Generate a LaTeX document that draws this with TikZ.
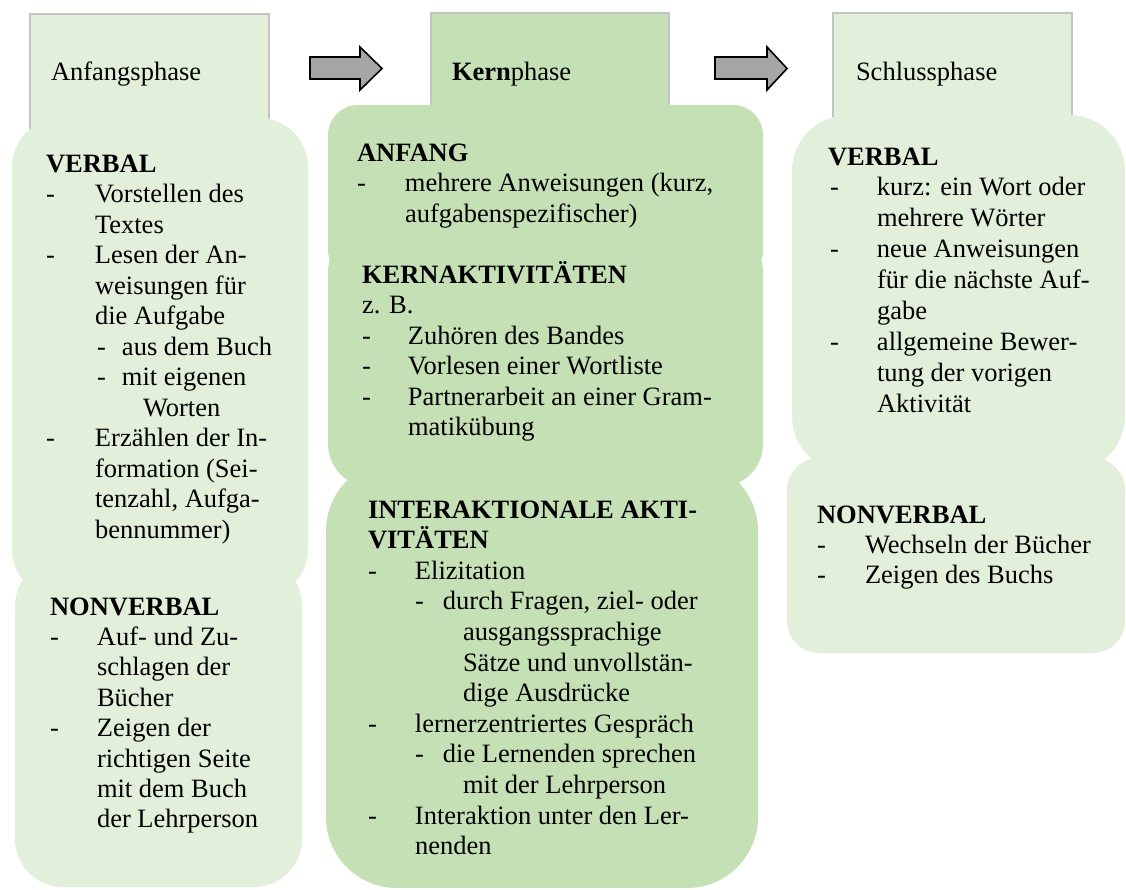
\documentclass[tikz,border=0pt]{standalone}
\usepackage{fontspec}
\setmainfont{Liberation Serif}

\definecolor{palegreen}{HTML}{E2EFDA}
\definecolor{midgreen}{HTML}{C5E0B4}
\definecolor{tabline}{HTML}{C4C4C4}
\definecolor{arrowgrey}{HTML}{A6A6A6}

% place #2 at a horizontal offset of #1 pt inside a line, without using width
\newcommand\at[2]{\makebox[0pt][l]{\hspace*{#1pt}#2}}
% a block of lines with a fixed baseline distance #1 (pt)
\newcommand\lines[2]{\parbox[t]{340pt}{\fontsize{26.5}{#1}\selectfont
  \lineskiplimit=-100pt\lineskip=0pt\parindent=0pt #2}}

\tikzset{
  every node/.style={inner sep=0pt, outer sep=0pt},
  tabbox/.style={draw=tabline, line width=1.6pt},
  blockarrow/.style={fill=arrowgrey, draw=black, line width=1.6pt, line join=miter},
  txt/.style={anchor=base west, font=\fontsize{26.5}{30.5}\selectfont},
}

\begin{document}
\begin{tikzpicture}[x=1pt, y=-1pt]
\useasboundingbox (0,0) rectangle (1126,889);
\fill[white] (0,0) rectangle (1126,889);

% phase tabs
\path[tabbox, fill=palegreen] (30,14) rectangle (269,160);
\path[tabbox, fill=midgreen]  (431,13) rectangle (669,120);
\path[tabbox, fill=palegreen] (833,13) rectangle (1072,140);
\node[txt] (tabA) at (51,80)  {Anfangsphase};
\node[txt] (tabK) at (452,80) {\textbf{Kern}phase};
\node[txt] (tabS) at (856,80) {Schlussphase};

% block arrows between the phases
\path[blockarrow] (310,57) -- (360,57) -- (360,47) -- (382,68.5) -- (360,90) -- (360,79) -- (310,79) -- cycle;
\path[blockarrow] (715,57) -- (767,57) -- (767,47) -- (787,68.5) -- (767,90) -- (767,79) -- (715,79) -- cycle;

% left column
\fill[palegreen, rounded corners=49pt] (12,118) rectangle (308,598);
\fill[palegreen, rounded corners=48pt] (15,558) rectangle (302,887);

% middle column
\fill[midgreen, rounded corners=30pt] (328,105) rectangle (763,280);
\fill[midgreen, rounded corners=43pt] (328,229) rectangle (763,487);
\fill[midgreen, rounded corners=71pt] (326,460) rectangle (758,888);

% right column
\fill[palegreen, rounded corners=56pt] (792,115) rectangle (1125,472);
\fill[palegreen, rounded corners=32pt] (787,458) rectangle (1125,653);

% texts, left column
\node[anchor=base west] (verbA) at (46,172) {\lines{30.5}{%
\at{0}{\textbf{VERBAL}}\\
\at{0}{-}\at{49}{Vorstellen des}\\
\at{49}{Textes}\\
\at{0}{-}\at{49}{Lesen der An-}\\
\at{49}{weisungen für}\\
\at{49}{die Aufgabe}\\
\at{51}{-}\at{76}{aus dem Buch}\\
\at{51}{-}\at{76}{mit eigenen}\\
\at{97}{Worten}\\
\at{0}{-}\at{49}{Erzählen der In-}\\
\at{49}{formation (Sei-}\\
\at{49}{tenzahl, Aufga-}\\
\at{49}{bennummer)}}};

\node[anchor=base west] (nonvA) at (50,615) {\lines{30.4}{%
\at{0}{\textbf{NONVERBAL}}\\
\at{0}{-}\at{47}{Auf- und Zu-}\\
\at{47}{schlagen der}\\
\at{47}{Bücher}\\
\at{0}{-}\at{47}{Zeigen der}\\
\at{47}{richtigen Seite}\\
\at{47}{mit dem Buch}\\
\at{47}{der Lehrperson}}};

% texts, middle column
\node[anchor=base west] (anf) at (357,161) {\lines{30.5}{%
\at{0}{\textbf{ANFANG}}\\
\at{0}{-}\at{48}{mehrere Anweisungen (kurz,}\\
\at{48}{aufgabenspezifischer)}}};

\node[anchor=base west] (kern) at (362,283) {\lines{30.5}{%
\at{0}{\textbf{KERNAKTIVITÄTEN}}\\
\at{0}{z. B.}\\
\at{0}{-}\at{46}{Zuhören des Bandes}\\
\at{0}{-}\at{46}{Vorlesen einer Wortliste}\\
\at{0}{-}\at{46}{Partnerarbeit an einer Gram-}\\
\at{46}{matikübung}}};

\node[anchor=base west] (inter) at (368,518) {\lines{30.6}{%
\at{0}{\textbf{INTERAKTIONALE AKTI-}}\\
\at{0}{\textbf{VITÄTEN}}\\
\at{0}{-}\at{47}{Elizitation}\\
\at{47}{-}\at{75}{durch Fragen, ziel- oder}\\
\at{95}{ausgangssprachige}\\
\at{95}{Sätze und unvollstän-}\\
\at{95}{dige Ausdrücke}\\
\at{0}{-}\at{47}{lernerzentriertes Gespräch}\\
\at{47}{-}\at{75}{die Lernenden sprechen}\\
\at{95}{mit der Lehrperson}\\
\at{0}{-}\at{47}{Interaktion unter den Ler-}\\
\at{47}{nenden}}};

% texts, right column
\node[anchor=base west] (verbS) at (828,165) {\lines{30.9}{%
\at{0}{\textbf{VERBAL}}\\
\at{2}{-}\at{49}{kurz: ein Wort oder}\\
\at{49}{mehrere Wörter}\\
\at{2}{-}\at{49}{neue Anweisungen}\\
\at{49}{für die nächste Auf-}\\
\at{49}{gabe}\\
\at{2}{-}\at{49}{allgemeine Bewer-}\\
\at{49}{tung der vorigen}\\
\at{49}{Aktivität}}};

\node[anchor=base west] (nonvS) at (817,523) {\lines{30}{%
\at{0}{\textbf{NONVERBAL}}\\
\at{0}{-}\at{48}{Wechseln der Bücher}\\
\at{0}{-}\at{48}{Zeigen des Buchs}}};
\end{tikzpicture}
\end{document}
